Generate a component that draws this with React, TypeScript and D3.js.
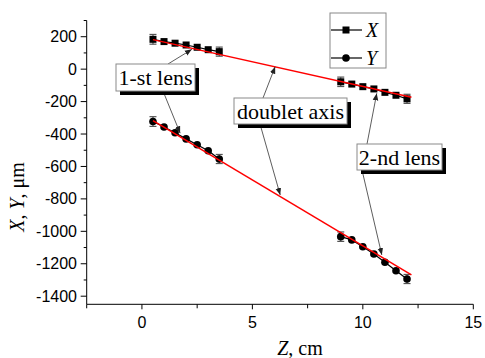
import * as d3 from "d3";

// z positions of the two lens groups (cm)
const zNear = [0.5, 1, 1.5, 2, 2.5, 3, 3.5];
const zFar = [9, 9.5, 10, 10.5, 11, 11.5, 12];

// X series (um)
const xNear = [184, 170, 160, 149, 135, 120, 108];
const xFar = [-78, -92, -108, -122, -143, -161, -183];
// Y series (um)
const yNear = [-323, -357, -392, -430, -466, -503, -554];
const yFar = [-1033, -1053, -1095, -1140, -1191, -1243, -1294];
// error bars (only end points carry them)
const errNear = [30, 0, 0, 0, 0, 0, 28];
const errFar = [29, 0, 0, 0, 0, 0, 28];

// red fit lines (doublet axis)
const fitZ = [0.5, 12.2];
const fitX = [182, -173];
const fitY = [-318, -1269];

const xTicks = [0, 5, 10, 15];
const yTicks = [200, 0, -200, -400, -600, -800, -1000, -1200, -1400];

const W = 485;
const H = 358;

const x = d3.scaleLinear().domain([-2.5, 15]).range([86.7, 473.3]);
const y = d3.scaleLinear().domain([-1450, 300]).range([304.3, 20.5]);

const serif = { fontFamily: "'Liberation Serif', 'DejaVu Serif', serif" };
const sans = { fontFamily: "'Liberation Sans', Arial, sans-serif" };

const line = d3
  .line<[number, number]>()
  .x((d) => x(d[0]))
  .y((d) => y(d[1]));

const groups = [
  { z: zNear, v: xNear, e: errNear, shape: "square" },
  { z: zFar, v: xFar, e: errFar, shape: "square" },
  { z: zNear, v: yNear, e: errNear, shape: "circle" },
  { z: zFar, v: yFar, e: errFar, shape: "circle" },
];

// annotation callouts: box in px, arrows to data points
const notes = [
  {
    text: "1-st lens",
    box: [116, 64, 79, 27],
    arrows: [
      { from: [168, 64], to: [2.26, 122] },
      { from: [163, 91], to: [1.73, -395] },
    ],
  },
  {
    text: "doublet axis",
    box: [234, 98, 113, 26],
    arrows: [
      { from: [263, 98], to: [6.03, 15] },
      { from: [260, 124], to: [6.26, -776] },
    ],
  },
  {
    text: "2-nd lens",
    box: [357, 144, 85, 26],
    arrows: [
      { from: [367, 144], to: [10.63, -149] },
      { from: [362, 170], to: [10.86, -1146] },
    ],
  },
];

const Marker = ({ shape, cx, cy }: { shape: string; cx: number; cy: number }) =>
  shape === "square" ? (
    <rect x={cx - 3.5} y={cy - 3.5} width={7} height={7} fill="#000" />
  ) : (
    <circle cx={cx} cy={cy} r={3.8} fill="#000" />
  );

export default function App() {
  const xMinor = d3.range(-2.5, 15.01, 2.5);
  const yMinor = d3.range(-1400, 301, 100);

  return (
    <svg
      width={W}
      height={H}
      style={{ position: "fixed", left: 0, top: 0, background: "#fff" }}
    >
      <defs>
        <marker
          id="arr"
          viewBox="0 0 10 10"
          refX="10"
          refY="5"
          markerWidth="7"
          markerHeight="7"
          markerUnits="userSpaceOnUse"
          orient="auto"
        >
          <path d="M0,1 L10,5 L0,9 Z" fill="#222" />
        </marker>
      </defs>

      {/* axes */}
      <line x1={x(-2.5)} x2={x(15)} y1={y(-1450)} y2={y(-1450)} stroke="#000" />
      <line x1={x(-2.5)} x2={x(-2.5)} y1={y(-1450)} y2={y(300)} stroke="#000" />

      {xMinor.map((t, i) => (
        <line
          key={"xm" + i}
          x1={x(t)}
          x2={x(t)}
          y1={y(-1450)}
          y2={y(-1450) + (t % 5 === 0 ? 5 : 4)}
          stroke="#000"
        />
      ))}
      {xTicks.map((t) => (
        <text
          key={"xt" + t}
          x={x(t)}
          y={y(-1450) + 24}
          textAnchor="middle"
          style={sans}
          fontSize={16}
        >
          {t}
        </text>
      ))}

      {yMinor.map((t, i) => (
        <line
          key={"ym" + i}
          x1={x(-2.5) - (t % 200 === 0 ? 6 : 3)}
          x2={x(-2.5)}
          y1={y(t)}
          y2={y(t)}
          stroke="#000"
        />
      ))}
      {yTicks.map((t) => (
        <text
          key={"yt" + t}
          x={77}
          y={y(t)}
          dy="0.35em"
          textAnchor="end"
          style={sans}
          fontSize={16}
        >
          {t}
        </text>
      ))}

      {/* axis titles */}
      <text x={300} y={355} textAnchor="middle" style={serif} fontSize={20}>
        <tspan fontStyle="italic">Z</tspan>, cm
      </text>
      <text
        transform={`translate(17, 197) rotate(-90)`}
        dy="0.35em"
        textAnchor="middle"
        style={serif}
        fontSize={20}
      >
        <tspan fontStyle="italic">X</tspan>, <tspan fontStyle="italic">Y</tspan>, μm
      </text>

      {/* data series */}
      {groups.map((g, gi) => (
        <g key={"g" + gi}>
          <path
            d={line(g.z.map((z, i) => [z, g.v[i]] as [number, number])) || ""}
            fill="none"
            stroke="#000"
            strokeWidth={1.2}
          />
          {g.z.map((z, i) =>
            g.e[i] > 0 ? (
              <g key={"e" + i} stroke="#555" strokeWidth={1.2}>
                <line x1={x(z)} x2={x(z)} y1={y(g.v[i] - g.e[i])} y2={y(g.v[i] + g.e[i])} />
                <line x1={x(z) - 3.5} x2={x(z) + 3.5} y1={y(g.v[i] - g.e[i])} y2={y(g.v[i] - g.e[i])} />
                <line x1={x(z) - 3.5} x2={x(z) + 3.5} y1={y(g.v[i] + g.e[i])} y2={y(g.v[i] + g.e[i])} />
              </g>
            ) : null
          )}
          {g.z.map((z, i) => (
            <Marker key={"m" + i} shape={g.shape} cx={x(z)} cy={y(g.v[i])} />
          ))}
        </g>
      ))}

      {/* fit lines */}
      <path
        d={line(fitZ.map((z, i) => [z, fitX[i]] as [number, number])) || ""}
        stroke="#f00"
        strokeWidth={1.5}
        fill="none"
      />
      <path
        d={line(fitZ.map((z, i) => [z, fitY[i]] as [number, number])) || ""}
        stroke="#f00"
        strokeWidth={1.5}
        fill="none"
      />

      {/* callouts */}
      {notes.map((n, ni) => (
        <g key={"n" + ni}>
          {n.arrows.map((a, ai) => (
            <line
              key={ai}
              x1={a.from[0]}
              y1={a.from[1]}
              x2={x(a.to[0])}
              y2={y(a.to[1])}
              stroke="#333"
              strokeWidth={0.8}
              markerEnd="url(#arr)"
            />
          ))}
          <rect x={n.box[0] + 4} y={n.box[1] + 4} width={n.box[2]} height={n.box[3]} fill="#000" />
          <rect
            x={n.box[0]}
            y={n.box[1]}
            width={n.box[2]}
            height={n.box[3]}
            fill="#fff"
            stroke="#8a8a8a"
          />
          <text
            x={n.box[0] + n.box[2] / 2}
            y={n.box[1] + n.box[3] / 2}
            dy="0.35em"
            textAnchor="middle"
            style={serif}
            fontSize={22}
          >
            {n.text}
          </text>
        </g>
      ))}

      {/* legend */}
      <rect x={330} y={13} width={56} height={55} fill="#fff" stroke="#888" />
      {[
        { label: "X", shape: "square", cy: 30 },
        { label: "Y", shape: "circle", cy: 58 },
      ].map((l) => (
        <g key={l.label}>
          <line x1={331} x2={362} y1={l.cy} y2={l.cy} stroke="#000" strokeWidth={1.2} />
          <Marker shape={l.shape} cx={346} cy={l.cy} />
          <text x={366} y={l.cy} dy="0.35em" style={serif} fontStyle="italic" fontSize={20}>
            {l.label}
          </text>
        </g>
      ))}
    </svg>
  );
}
